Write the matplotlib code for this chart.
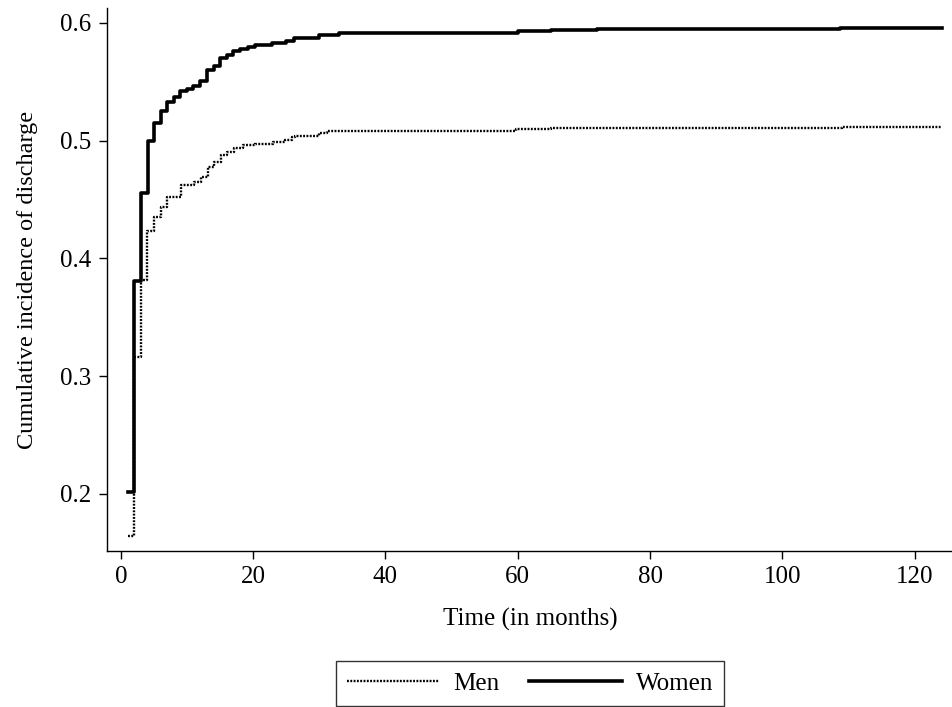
import matplotlib.pyplot as plt

plt.rcParams['font.family'] = ['Liberation Serif', 'DejaVu Serif']

# cumulative incidence of discharge, step points (months, value)
men_t = [1, 2, 3, 4, 5, 6, 7, 9.1, 11.1, 12.1, 13.1, 14.1, 15.1, 16.1, 17.1, 18.4,
         20.2, 23, 24.8, 25.8, 26.3, 30, 31.2, 33.5, 59.7, 65, 72, 109, 124.2]
men_y = [0.164, 0.316, 0.382, 0.423, 0.435, 0.444, 0.452, 0.462, 0.465, 0.4695, 0.478,
         0.482, 0.488, 0.4907, 0.4936, 0.4964, 0.4972, 0.4992, 0.5006, 0.5034, 0.504,
         0.5068, 0.508, 0.5086, 0.5097, 0.5105, 0.5112, 0.512, 0.512]

women_t = [1, 2, 3, 4.1, 5, 6, 7, 8, 9, 10, 10.9, 11.9, 13, 14, 15, 16, 17, 18, 19.2,
           20.2, 22.9, 25, 26.1, 30, 33, 60, 65, 72, 108.7, 124.2]
women_y = [0.202, 0.381, 0.456, 0.500, 0.515, 0.5253, 0.5327, 0.537, 0.5425, 0.544,
           0.5467, 0.551, 0.560, 0.5637, 0.570, 0.5728, 0.5762, 0.578, 0.5794, 0.5813,
           0.5827, 0.585, 0.587, 0.5898, 0.5918, 0.5932, 0.594, 0.5949, 0.5955, 0.5955]

fig = plt.figure(figsize=(9.53, 7.07), dpi=100)
ax = fig.add_axes([0.1123, 0.2207, 0.8877, 0.768])

ax.step(men_t, men_y, where='post', color='black', lw=1.7,
        linestyle=(0, (0.8, 0.6)), label='Men')
ax.step(women_t, women_y, where='post', color='black', lw=2.6, label='Women')

ax.set_xlim(-2.1, 125.8)
ax.set_ylim(0.1516, 0.6127)
ax.set_xticks([0, 20, 40, 60, 80, 100, 120])
ax.set_yticks([0.2, 0.3, 0.4, 0.5, 0.6])
ax.set_yticklabels(['0.2', '0.3', '0.4', '0.5', '0.6'])
ax.tick_params(direction='out', length=6, width=1, labelsize=18, pad=5)
for s in ['top', 'right']:
    ax.spines[s].set_visible(False)
for s in ['left', 'bottom']:
    ax.spines[s].set_linewidth(1)

ax.set_xlabel('Time (in months)', fontsize=18, labelpad=14)
ax.set_ylabel('Cumulative incidence of discharge', fontsize=17.5, labelpad=16)

leg = fig.legend(loc='center', bbox_to_anchor=(0.556, 0.0332), ncol=2,
                 fontsize=18, frameon=True, fancybox=False, edgecolor='black',
                 handlelength=3.7, handletextpad=0.55, columnspacing=1.2,
                 borderpad=0.45, borderaxespad=0)
leg.get_frame().set_linewidth(1)

fig.savefig('out.png', dpi=100)
